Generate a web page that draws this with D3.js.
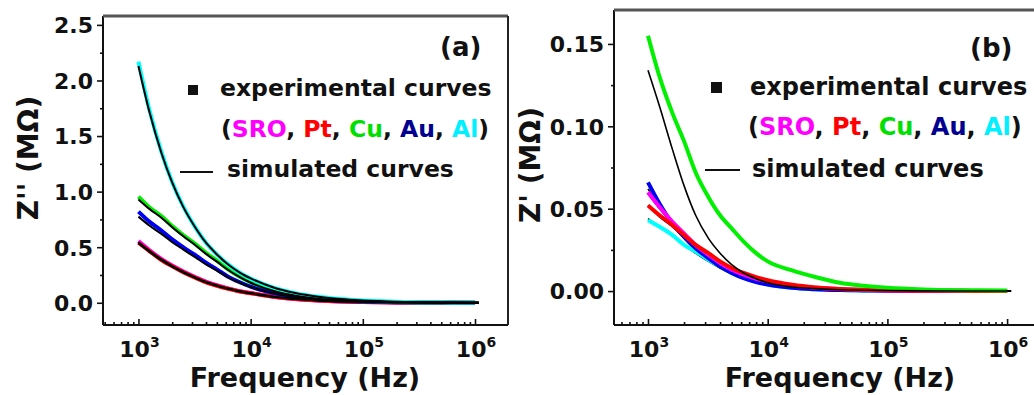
<!DOCTYPE html>
<html>
<head>
<meta charset="utf-8">
<script src="https://cdn.jsdelivr.net/npm/d3@7"></script>
<style>
  body { margin: 0; background: #fff; }
  svg text { font-family: "DejaVu Sans", sans-serif; font-weight: bold; fill: #111; }
</style>
</head>
<body>
<svg id="chart" width="1034" height="395"></svg>
<script>
// frequencies (Hz) the curves are read at
const freqExp = [1e3, 1.25e3, 1.6e3, 2e3, 2.5e3, 3.2e3, 4e3, 5e3, 6.3e3, 8e3, 1e4, 1.6e4, 2.5e4, 4e4, 6.3e4, 1e5, 2e5, 5e5, 1e6];
const freqSim = [1e3, 1.25e3, 1.6e3, 2e3, 2.5e3, 3.2e3, 4e3, 5e3, 6.3e3, 8e3, 1e4, 1.6e4, 2.5e4, 4e4, 6.3e4, 1e5, 2e5, 5e5, 1.08e6];

const electrodes = ['SRO', 'Pt', 'Cu', 'Au', 'Al'];
const curveColors = ['#ff00ff', '#ff0000', '#00f000', '#0000f0', '#00ffff'];
const labelColors = ['#ff00ff', '#ff0000', '#00e000', '#000090', '#00f0ff'];

// (a) Z'' in MOhm
const aSRO = [0.555, 0.475, 0.395, 0.335, 0.283, 0.232, 0.19, 0.158, 0.13, 0.105, 0.088, 0.055, 0.034, 0.02, 0.012, 0.007, 0.003, 0.0012, 0.0005];
const aPt  = [0.54, 0.465, 0.385, 0.328, 0.276, 0.226, 0.184, 0.153, 0.126, 0.102, 0.086, 0.054, 0.033, 0.02, 0.012, 0.007, 0.003, 0.0012, 0.0005];
const aCu  = [0.955, 0.86, 0.78, 0.69, 0.61, 0.53, 0.45, 0.38, 0.3, 0.235, 0.185, 0.11, 0.066, 0.038, 0.022, 0.013, 0.006, 0.002, 0.001];
const aAu  = [0.82, 0.73, 0.65, 0.57, 0.5, 0.43, 0.36, 0.3, 0.235, 0.185, 0.145, 0.088, 0.053, 0.031, 0.018, 0.011, 0.005, 0.002, 0.001];
const aAl  = [2.17, 1.74, 1.36, 1.085, 0.87, 0.68, 0.54, 0.435, 0.345, 0.27, 0.217, 0.136, 0.087, 0.054, 0.034, 0.021, 0.01, 0.004, 0.002];
const aSimSRO = [0.545, 0.468, 0.39, 0.33, 0.279, 0.229, 0.187, 0.156, 0.128, 0.104, 0.087, 0.054, 0.033, 0.02, 0.012, 0.007, 0.003, 0.0012, 0.0005];
const aSimPt  = [0.535, 0.46, 0.383, 0.325, 0.274, 0.225, 0.183, 0.152, 0.126, 0.102, 0.085, 0.053, 0.033, 0.02, 0.012, 0.007, 0.003, 0.0012, 0.0005];
const aSimCu  = [0.93, 0.845, 0.765, 0.68, 0.6, 0.52, 0.44, 0.37, 0.295, 0.23, 0.18, 0.107, 0.064, 0.037, 0.022, 0.013, 0.006, 0.002, 0.001];
const aSimAu  = [0.775, 0.695, 0.62, 0.545, 0.48, 0.41, 0.345, 0.29, 0.228, 0.18, 0.142, 0.086, 0.052, 0.03, 0.018, 0.011, 0.005, 0.002, 0.001];
const aSimAl  = [2.13, 1.72, 1.35, 1.08, 0.865, 0.68, 0.54, 0.435, 0.345, 0.272, 0.22, 0.138, 0.088, 0.055, 0.034, 0.021, 0.01, 0.004, 0.002];

// (b) Z' in MOhm
const bSRO = [0.06, 0.051, 0.042, 0.035, 0.028, 0.022, 0.017, 0.013, 0.01, 0.0075, 0.0058, 0.0033, 0.002, 0.0012, 0.0007, 0.0004, 0.0002, 0.0001, 0];
const bPt  = [0.052, 0.046, 0.04, 0.034, 0.028, 0.023, 0.018, 0.014, 0.011, 0.0085, 0.0066, 0.0038, 0.0022, 0.0013, 0.0008, 0.0005, 0.0002, 0.0001, 0];
const bCu  = [0.155, 0.13, 0.108, 0.091, 0.072, 0.057, 0.046, 0.038, 0.03, 0.023, 0.018, 0.0125, 0.0085, 0.005, 0.0032, 0.002, 0.001, 0.0005, 0.0003];
const bAu  = [0.066, 0.053, 0.041, 0.033, 0.026, 0.02, 0.015, 0.011, 0.0078, 0.0055, 0.004, 0.002, 0.0011, 0.0006, 0.0004, 0.0002, 0.0001, 0, 0];
const bAl  = [0.043, 0.039, 0.034, 0.028, 0.024, 0.019, 0.015, 0.011, 0.008, 0.0057, 0.004, 0.002, 0.0011, 0.0006, 0.0004, 0.0002, 0.0001, 0, 0];
const bSimSRO = [0.059, 0.05, 0.041, 0.034, 0.027, 0.021, 0.016, 0.012, 0.0095, 0.007, 0.0055, 0.0031, 0.0019, 0.0011, 0.0007, 0.0004, 0.0002, 0.0001, 0];
const bSimPt  = [0.052, 0.045, 0.039, 0.033, 0.027, 0.022, 0.017, 0.013, 0.0105, 0.008, 0.0062, 0.0036, 0.0021, 0.0012, 0.0008, 0.0005, 0.0002, 0.0001, 0];
const bSimCu  = [0.134, 0.112, 0.086, 0.064, 0.046, 0.032, 0.023, 0.016, 0.011, 0.0075, 0.005, 0.0025, 0.0015, 0.0008, 0.0005, 0.0003, 0.0001, 0, 0];
const bSimAu  = [0.062, 0.051, 0.04, 0.032, 0.025, 0.019, 0.014, 0.0105, 0.0075, 0.0053, 0.0038, 0.0019, 0.001, 0.0006, 0.0003, 0.0002, 0.0001, 0, 0];
const bSimAl  = [0.044, 0.039, 0.034, 0.028, 0.023, 0.018, 0.014, 0.0105, 0.0075, 0.0053, 0.0038, 0.0019, 0.001, 0.0006, 0.0003, 0.0002, 0.0001, 0, 0];

const xMajor = [1e3, 1e4, 1e5, 1e6];
const aYMajor = [0, 0.5, 1, 1.5, 2, 2.5];
const aYMinor = [0.25, 0.75, 1.25, 1.75, 2.25];
const bYMajor = [0, 0.05, 0.1, 0.15];
const bYMinor = [0.025, 0.075, 0.125];

const svg = d3.select('#chart');

function drawPanel(p) {
  const g = svg.append('g');
  const x = d3.scaleLog().domain(p.xDomain).range([p.left, p.right]);
  const y = d3.scaleLinear().domain(p.yDomain).range([p.bottom, p.top]);

  const xMinor = [];
  for (let e = 2; e <= 6; e++) {
    for (let m = 2; m <= 9; m++) {
      const v = m * Math.pow(10, e);
      if (x(v) > p.left + 1 && x(v) < p.right - 1) xMinor.push(v);
    }
  }

  // x ticks point inward, y ticks point outward
  const xAxisMinor = g.append('g').attr('transform', `translate(0,${p.bottom})`)
    .call(d3.axisBottom(x).tickValues(xMinor).tickSize(-3).tickSizeOuter(0).tickFormat(''));
  const xAxis = g.append('g').attr('transform', `translate(0,${p.bottom})`)
    .call(d3.axisBottom(x).tickValues(xMajor).tickSize(-6).tickSizeOuter(0).tickFormat(''));
  const yAxisMinor = g.append('g').attr('transform', `translate(${p.left},0)`)
    .call(d3.axisLeft(y).tickValues(p.yMinor).tickSize(3).tickSizeOuter(0).tickFormat(''));
  const yAxis = g.append('g').attr('transform', `translate(${p.left},0)`)
    .call(d3.axisLeft(y).tickValues(p.yMajor).tickSize(6).tickSizeOuter(0).tickPadding(4)
      .tickFormat(d3.format(p.yFormat)));
  [xAxisMinor, xAxis, yAxisMinor, yAxis].forEach(a => {
    a.select('.domain').remove();
    a.selectAll('line').attr('stroke', '#111').attr('stroke-width', 1.6);
  });
  yAxis.selectAll('text').attr('font-size', 22).attr('fill', '#111').attr('dy', '0.36em');

  // 10^n labels
  xMajor.forEach(v => {
    const t = g.append('text')
      .attr('x', x(v) + 1).attr('y', p.bottom + 32)
      .attr('text-anchor', 'middle').attr('font-size', 22);
    t.append('tspan').text('10');
    t.append('tspan').attr('dy', -10).attr('font-size', 14).text(Math.log10(v));
  });

  // frame
  g.append('line').attr('x1', p.left).attr('x2', p.left).attr('y1', p.top).attr('y2', p.bottom)
    .attr('stroke', '#111').attr('stroke-width', 2);
  g.append('line').attr('x1', p.left).attr('x2', p.right).attr('y1', p.bottom).attr('y2', p.bottom)
    .attr('stroke', '#111').attr('stroke-width', 2);
  g.append('line').attr('x1', p.left).attr('x2', p.right).attr('y1', p.top).attr('y2', p.top)
    .attr('stroke', '#555').attr('stroke-width', 3);
  if (p.rightBorder) {
    g.append('line').attr('x1', p.right).attr('x2', p.right).attr('y1', p.top).attr('y2', p.bottom)
      .attr('stroke', '#222').attr('stroke-width', 2);
  }

  const lineExp = d3.line().x((d, i) => x(freqExp[i])).y(d => y(d)).curve(d3.curveMonotoneX);
  const lineSim = d3.line().x((d, i) => x(freqSim[i])).y(d => y(d)).curve(d3.curveMonotoneX);

  const drawSim = s => g.append('path').attr('d', lineSim(s)).attr('fill', 'none')
    .attr('stroke', '#000').attr('stroke-width', p.simWidth);

  p.simsUnder.forEach(drawSim);
  p.expOrder.forEach(k => {
    g.append('path').attr('d', lineExp(p.exp[k])).attr('fill', 'none')
      .attr('stroke', curveColors[k]).attr('stroke-width', p.expWidth)
      .attr('stroke-linejoin', 'round');
  });
  p.simsOver.forEach(drawSim);

  // axis titles
  g.append('text').attr('x', p.xTitleX).attr('y', p.bottom + 62)
    .attr('text-anchor', 'middle').attr('font-size', 27).text('Frequency (Hz)');
  g.append('text').attr('transform', `translate(${p.yTitleX},${p.yTitleY}) rotate(-90)`)
    .attr('text-anchor', 'middle').attr('font-size', 28).text(p.yTitle);

  // panel tag
  g.append('text').attr('x', p.tag[0]).attr('y', p.tag[1]).attr('font-size', 26).text(p.tagText);

  // legend
  const L = p.legend;
  g.append('rect').attr('x', L.sq[0]).attr('y', L.sq[1]).attr('width', L.sq[2]).attr('height', L.sq[2]).attr('fill', '#111');
  g.append('text').attr('x', L.x1).attr('y', L.y1).attr('font-size', L.fs).text('experimental curves');
  const t2 = g.append('text').attr('x', L.x2).attr('y', L.y2).attr('font-size', L.fs);
  t2.append('tspan').text('(');
  electrodes.forEach((name, i) => {
    t2.append('tspan').attr('fill', labelColors[i]).text(name);
    if (i < electrodes.length - 1) t2.append('tspan').text(', ');
  });
  t2.append('tspan').text(')');
  g.append('line').attr('x1', L.line[0]).attr('x2', L.line[1]).attr('y1', L.line[2]).attr('y2', L.line[2])
    .attr('stroke', '#111').attr('stroke-width', 2);
  g.append('text').attr('x', L.x3).attr('y', L.y3).attr('font-size', L.fs).text('simulated curves');
}

drawPanel({
  left: 103, right: 508, top: 16, bottom: 325,
  xDomain: [Math.pow(10, 2.684), Math.pow(10, 6.294)],
  yDomain: [-0.2, 2.58],
  yMajor: aYMajor, yMinor: aYMinor, yFormat: '.1f',
  rightBorder: true,
  exp: [aSRO, aPt, aCu, aAu, aAl],
  expOrder: [0, 1, 2, 3, 4],
  expWidth: 4,
  simsUnder: [],
  simsOver: [aSimSRO, aSimPt, aSimCu, aSimAu, aSimAl],
  simWidth: 2,
  xTitleX: 305, yTitleX: 38, yTitleY: 158, yTitle: "Z'' (M\u03A9)",
  tag: [440, 56], tagText: '(a)',
  legend: { sq: [188, 85, 10], fs: 23.5, x1: 220, y1: 96, x2: 221, y2: 137, line: [180, 213, 172], x3: 227, y3: 177 }
});

drawPanel({
  left: 614, right: 1034, top: 10, bottom: 325,
  xDomain: [Math.pow(10, 2.716), Math.pow(10, 6.2247)],
  yDomain: [-0.0206, 0.1706],
  yMajor: bYMajor, yMinor: bYMinor, yFormat: '.2f',
  rightBorder: false,
  exp: [bSRO, bPt, bCu, bAu, bAl],
  expOrder: [4, 3, 0, 1, 2],
  expWidth: 4,
  simsUnder: [bSimSRO, bSimPt, bSimAu, bSimAl],
  simsOver: [bSimCu],
  simWidth: 1.6,
  xTitleX: 840, yTitleX: 540, yTitleY: 165, yTitle: "Z' (M\u03A9)",
  tag: [970, 57], tagText: '(b)',
  legend: { sq: [711, 82, 11], fs: 24, x1: 750, y1: 95, x2: 748, y2: 135, line: [705, 740, 170], x3: 752, y3: 177 }
});
</script>
</body>
</html>
